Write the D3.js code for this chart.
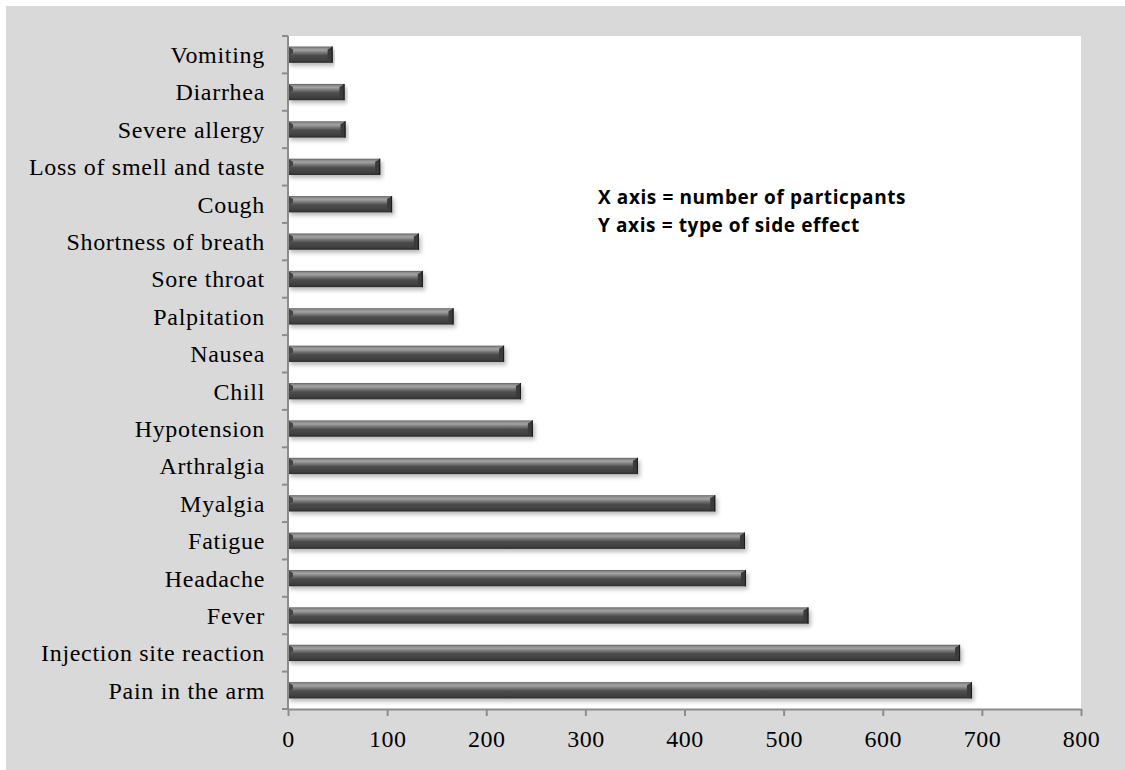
<!DOCTYPE html>
<html>
<head>
<meta charset="utf-8">
<script src="https://cdn.jsdelivr.net/npm/d3@7"></script>
<style>
  body { margin: 0; background: #fff; }
  svg { display: block; }
</style>
</head>
<body>
<div id="chart-area"></div>
<script>
const categories = ['Vomiting', 'Diarrhea', 'Severe allergy', 'Loss of smell and taste', 'Cough',
    'Shortness of breath', 'Sore throat ', 'Palpitation', 'Nausea', 'Chill', 'Hypotension',
    'Arthralgia', 'Myalgia', 'Fatigue', 'Headache', 'Fever', 'Injection site reaction', 'Pain in the arm'];
const counts = [45, 57, 58, 93, 105, 132, 136, 167, 218, 235, 247, 353, 431, 461, 462, 525, 678, 690];
const xTicks = [0, 100, 200, 300, 400, 500, 600, 700, 800];
const notes = ['X axis = number of particpants', 'Y axis = type of side effect'];

const data = categories.map((c, i) => ({name: c, value: counts[i]}));

const W = 1125, H = 770;
const margin = {left: 288, right: 44, top: 36, bottom: 61};
const width = W - margin.left - margin.right;
const height = H - margin.top - margin.bottom;

const svg = d3.select('#chart-area')
    .append('svg')
    .attr('width', W)
    .attr('height', H);

const defs = svg.append('defs');
const grad = defs.append('linearGradient')
    .attr('id', 'barGrad')
    .attr('x1', 0).attr('y1', 0).attr('x2', 0).attr('y2', 1);
[[0, '#555'], [0.08, '#8a8a8a'], [0.22, '#a2a2a2'], [0.38, '#767676'],
 [0.55, '#4c4c4c'], [0.85, '#404040'], [1, '#2a2a2a']].forEach(s => {
    grad.append('stop').attr('offset', s[0]).attr('stop-color', s[1]);
});
const shadow = defs.append('filter')
    .attr('id', 'shadow')
    .attr('x', '-5%').attr('y', '-50%').attr('width', '110%').attr('height', '250%');
shadow.append('feDropShadow')
    .attr('dx', 2).attr('dy', 3).attr('stdDeviation', 2)
    .attr('flood-color', '#000').attr('flood-opacity', 0.28);

// chart area
svg.append('rect')
    .attr('x', 6).attr('y', 6)
    .attr('width', W - 6).attr('height', H - 6)
    .attr('fill', '#d9d9d9');

const g = svg.append('g')
    .attr('transform', `translate(${margin.left}, ${margin.top})`);

g.append('rect')
    .attr('width', width)
    .attr('height', height)
    .attr('fill', '#fff');

const x = d3.scaleLinear()
    .domain([0, 800])
    .range([0, width]);

const y = d3.scaleBand()
    .domain(categories)
    .range([0, height])
    .paddingInner(0.565)
    .paddingOuter(0.2825);

// bars
const bars = g.selectAll('.bar')
    .data(data)
    .enter()
    .append('g')
    .attr('class', 'bar')
    .attr('filter', 'url(#shadow)');

bars.append('rect')
    .attr('x', 0)
    .attr('y', d => y(d.name))
    .attr('width', d => x(d.value))
    .attr('height', y.bandwidth())
    .attr('fill', 'url(#barGrad)');

// bevel at the right end
const bv = 5;
bars.append('path')
    .attr('d', d => {
        const x1 = x(d.value), y0 = y(d.name), y1 = y0 + y.bandwidth();
        return `M${x1 - bv},${y0 + 3} L${x1},${y0} L${x1},${y1} L${x1 - bv},${y1 - 3} Z`;
    })
    .attr('fill', '#3a3a3a');
bars.append('line')
    .attr('x1', d => x(d.value) - 0.5)
    .attr('x2', d => x(d.value) - 0.5)
    .attr('y1', d => y(d.name))
    .attr('y2', d => y(d.name) + y.bandwidth())
    .attr('stroke', '#1a1a1a');
// bevel at the left end
bars.append('path')
    .attr('d', d => {
        const y0 = y(d.name);
        return `M0,${y0} L${bv},${y0 + 3} L${bv},${y0 + 7} L0,${y0 + 9} Z`;
    })
    .attr('fill', '#444');

// axes
const xAxisCall = d3.axisBottom(x)
    .tickValues(xTicks)
    .tickSize(7)
    .tickPadding(14)
    .tickSizeOuter(0);
const xAxis = g.append('g')
    .attr('class', 'x axis')
    .attr('transform', `translate(0, ${height})`)
    .call(xAxisCall);
xAxis.select('.domain').attr('stroke', '#8c8c8c').attr('stroke-width', 2);
xAxis.selectAll('.tick line').attr('stroke', '#8c8c8c').attr('stroke-width', 2);
xAxis.selectAll('text')
    .attr('font-family', '"Liberation Serif", serif')
    .attr('font-size', '24px')
    .attr('letter-spacing', '0.5px')
    .attr('fill', '#000');

const yTickVals = d3.range(categories.length + 1);
const step = y.step();
g.append('line')
    .attr('x1', 0).attr('x2', 0)
    .attr('y1', 0).attr('y2', height)
    .attr('stroke', '#8c8c8c').attr('stroke-width', 2);
g.selectAll('.ytick')
    .data(yTickVals)
    .enter()
    .append('line')
    .attr('class', 'ytick')
    .attr('x1', -6).attr('x2', 0)
    .attr('y1', d => d * step)
    .attr('y2', d => d * step)
    .attr('stroke', '#8c8c8c').attr('stroke-width', 2);

g.selectAll('.ylabel')
    .data(categories)
    .enter()
    .append('text')
    .attr('class', 'ylabel')
    .attr('x', -23)
    .attr('y', d => y(d) + y.bandwidth() / 2)
    .attr('dy', '0.35em')
    .attr('text-anchor', 'end')
    .attr('font-family', '"Liberation Serif", serif')
    .attr('font-size', '24px')
    .attr('letter-spacing', '0.7px')
    .attr('fill', '#000')
    .text(d => d);

// annotation
svg.selectAll('.note')
    .data(notes)
    .enter()
    .append('text')
    .attr('class', 'note')
    .attr('x', 598)
    .attr('y', (d, i) => 204 + i * 28)
    .attr('font-family', '"Open Sans", sans-serif')
    .attr('font-weight', 'bold')
    .attr('font-size', '19px')
    .attr('letter-spacing', '0.6px')
    .attr('fill', '#000')
    .text(d => d);
</script>
</body>
</html>
